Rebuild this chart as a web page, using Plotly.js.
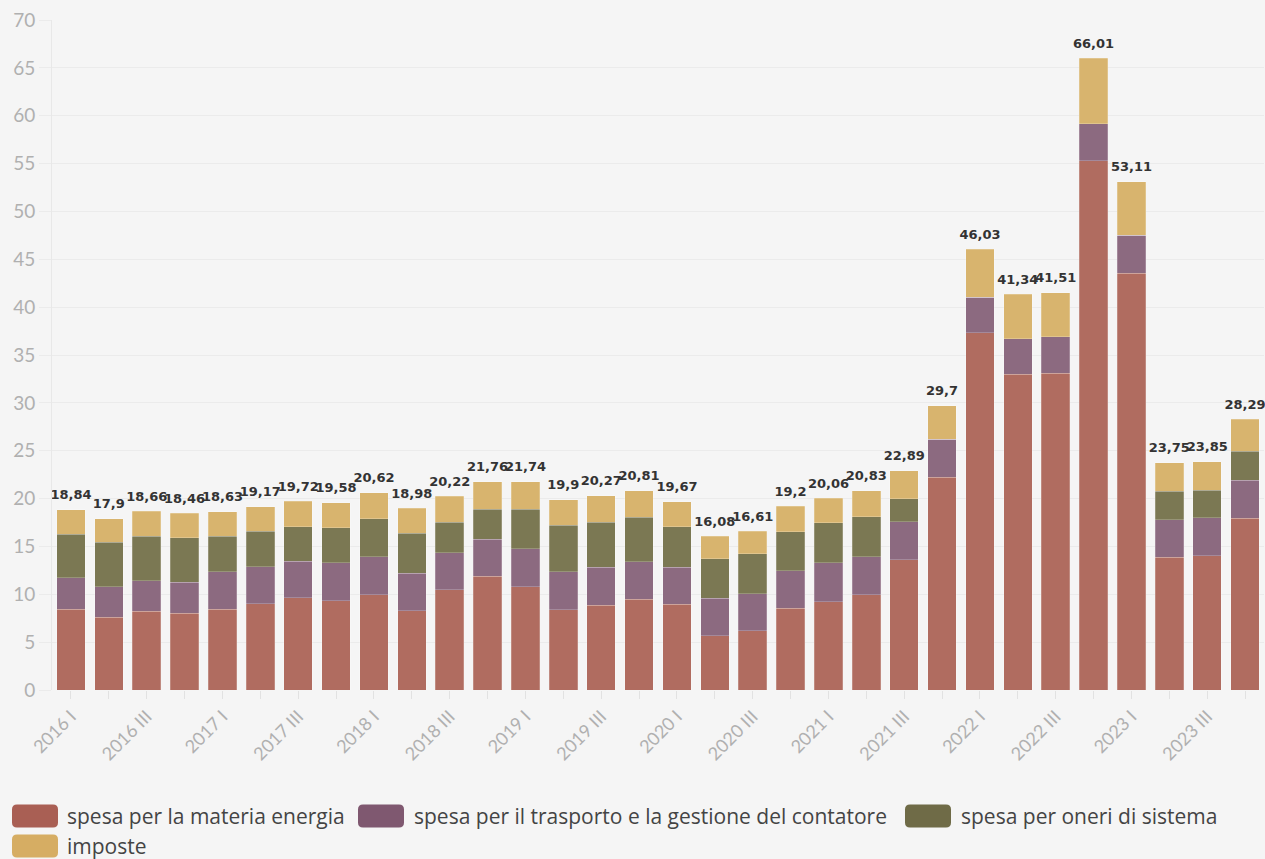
<!DOCTYPE html>
<html>
<head>
<meta charset="utf-8">
<script src="https://cdn.plot.ly/plotly-3.0.1.min.js"></script>
<style>
  html, body { margin: 0; padding: 0; background: #f5f5f5; }
  #chart { width: 1265px; height: 859px; }
</style>
</head>
<body>
<div id="chart"></div>
<script>
const categories = [
  "2016 I","2016 II","2016 III","2016 IV",
  "2017 I","2017 II","2017 III","2017 IV",
  "2018 I","2018 II","2018 III","2018 IV",
  "2019 I","2019 II","2019 III","2019 IV",
  "2020 I","2020 II","2020 III","2020 IV",
  "2021 I","2021 II","2021 III","2021 IV",
  "2022 I","2022 II","2022 III","2022 IV",
  "2023 I","2023 II","2023 III","2023 IV"
];
const seriesNames = [
  "spesa per la materia energia",
  "spesa per il trasporto e la gestione del contatore",
  "spesa per oneri di sistema",
  "imposte"
];
const materiaEnergia = [8.43,7.59,8.25,8.01,8.43,8.99,9.65,9.33,9.96,8.27,10.45,11.88,10.80,8.36,8.85,9.47,8.95,5.68,6.20,8.53,9.24,9.97,13.63,22.24,37.30,32.97,33.08,55.30,43.53,13.85,14.03,17.95];
const trasporto = [3.30,3.21,3.17,3.24,3.90,3.89,3.80,3.97,3.97,3.95,3.90,3.86,3.97,3.97,3.97,3.94,3.90,3.90,3.86,3.94,4.06,3.96,3.96,3.95,3.73,3.74,3.85,3.84,3.99,3.92,3.99,3.99];
const oneri = [4.54,4.63,4.67,4.66,3.76,3.70,3.62,3.63,3.97,4.15,3.20,3.17,4.11,4.87,4.73,4.63,4.22,4.14,4.18,4.07,4.18,4.17,2.38,0,0,0,0,0,0,3.00,2.87,2.98];
const imposte = [2.57,2.47,2.57,2.55,2.54,2.59,2.65,2.65,2.72,2.61,2.67,2.85,2.86,2.70,2.72,2.77,2.60,2.36,2.37,2.66,2.58,2.73,2.92,3.51,5.00,4.63,4.58,6.87,5.59,2.98,2.96,3.37];
const totals = [18.84,17.9,18.66,18.46,18.63,19.17,19.72,19.58,20.62,18.98,20.22,21.76,21.74,19.9,20.27,20.81,19.67,16.08,16.61,19.2,20.06,20.83,22.89,29.7,46.03,41.34,41.51,66.01,53.11,23.75,23.85,28.29];
const tickLabels = categories.map((c, i) => (i % 2 === 0 ? c : ""));

const barColors = ["#b06c60", "#8c6a80", "#7b7853", "#d8b46e"];
const legendColors = ["#a95f54", "#7f5870", "#6f6b47", "#d6ad63"];
const seriesValues = [materiaEnergia, trasporto, oneri, imposte];

const traces = seriesValues.map((vals, i) => ({
  type: "bar",
  name: seriesNames[i],
  x: categories,
  y: vals,
  marker: { color: barColors[i], line: { color: "rgba(255,255,255,0.35)", width: 0.6 } },
  showlegend: false,
  hoverinfo: "name+y"
}));

traces.push({
  type: "scatter",
  mode: "markers+text",
  x: categories,
  y: totals,
  marker: { size: 10, opacity: 0, color: "#f5f5f5" },
  texttemplate: "%{y}",
  textposition: "top center",
  textfont: { family: "DejaVu Sans", size: 13, color: "#333333", weight: "bold" },
  cliponaxis: false,
  showlegend: false,
  hoverinfo: "skip"
});

// custom legend (pixel positions of the legend block)
const M = { l: 52, r: 1, t: 20, b: 169 };
const plotW = 1265 - M.l - M.r, plotH = 859 - M.t - M.b;
const px2x = p => (p - M.l) / plotW;
const py2y = p => (859 - M.b - p) / plotH;
const legendPos = [
  { sx: 35, sy: 816, tx: 65 },
  { sx: 381, sy: 816, tx: 412 },
  { sx: 928, sy: 816, tx: 959 },
  { sx: 35, sy: 846, tx: 65 }
];
const swPath = "M -18,-11.5 L 18,-11.5 Q 23,-11.5 23,-6.5 L 23,6.5 Q 23,11.5 18,11.5 L -18,11.5 Q -23,11.5 -23,6.5 L -23,-6.5 Q -23,-11.5 -18,-11.5 Z";
const shapes = legendPos.map((p, i) => ({
  type: "path",
  xref: "paper", yref: "paper",
  xsizemode: "pixel", ysizemode: "pixel",
  xanchor: px2x(p.sx), yanchor: py2y(p.sy),
  path: swPath,
  fillcolor: legendColors[i],
  line: { width: 0 }
}));
const annotations = legendPos.map((p, i) => ({
  xref: "paper", yref: "paper",
  x: px2x(p.tx), y: py2y(p.sy),
  xanchor: "left", yanchor: "middle",
  text: seriesNames[i],
  showarrow: false,
  font: { family: "Open Sans", size: 21, color: "#444444" }
}));

const layout = {
  width: 1265, height: 859,
  margin: M,
  paper_bgcolor: "#f5f5f5",
  plot_bgcolor: "#f5f5f5",
  barmode: "stack",
  bargap: 0.25,
  separators: ",.",
  font: { family: "Lato", color: "#aaaaaa" },
  xaxis: {
    type: "category",
    tickmode: "array",
    tickvals: categories,
    ticktext: tickLabels,
    tickangle: -45,
    tickfont: { family: "Lato", size: 18, color: "#b0b0b0" },
    ticks: "outside", ticklen: 8, tickcolor: "#e2e2e2", tickwidth: 1,
    showgrid: false, showline: false, zeroline: false,
    range: [-0.5, 31.5]
  },
  yaxis: {
    range: [0, 70],
    dtick: 5,
    tickfont: { family: "Lato", size: 19, color: "#b0b0b0" },
    gridcolor: "#ebebeb", gridwidth: 1,
    ticks: "outside", ticklen: 12, tickcolor: "#ebebeb",
    showline: true, linecolor: "#e8e8e8", linewidth: 1,
    zeroline: false
  },
  shapes: shapes,
  annotations: annotations,
  showlegend: false
};

Plotly.newPlot("chart", traces, layout, { displayModeBar: false, staticPlot: true });
</script>
</body>
</html>
